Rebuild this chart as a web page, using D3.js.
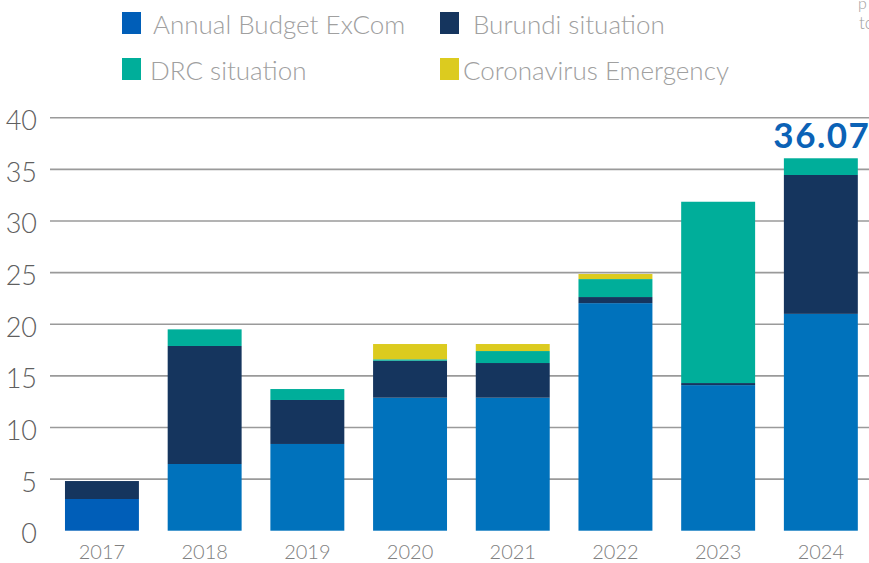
<!DOCTYPE html>
<html>
<head>
    <script src="https://d3js.org/d3.v7.min.js"></script>
    <style>
        body { margin: 0; background: #fff; }
        svg { display: block; }
        text { font-family: Lato, "Open Sans", sans-serif; }
    </style>
</head>
<body>
    <svg></svg>
    <script>
        const years = ['2017', '2018', '2019', '2020', '2021', '2022', '2023', '2024']
        const seriesNames = ['Annual Budget ExCom', 'Burundi situation', 'DRC situation', 'Coronavirus Emergency']
        const annualBudget = [3.07, 6.46, 8.40, 12.88, 12.88, 22.04, 14.10, 21.00]
        const burundi      = [1.74, 11.43, 4.26, 3.58, 3.36, 0.59, 0.20, 13.45]
        const drc          = [0, 1.61, 1.06, 0.14, 1.16, 1.74, 17.56, 1.62]
        const corona       = [0, 0, 0, 1.48, 0.68, 0.49, 0, 0]
        const yTicks = [0, 5, 10, 15, 20, 25, 30, 35, 40]
        const totalLabel = '36.07'

        const colors = ['#0072bc', '#15355e', '#00ae9a', '#dccb1f']

        const width = 869, height = 563

        const svg = d3.select('svg').attr('width', width).attr('height', height)

        const rows = years.map((y, i) => ({
            year: y,
            'Annual Budget ExCom': annualBudget[i],
            'Burundi situation': burundi[i],
            'DRC situation': drc[i],
            'Coronavirus Emergency': corona[i]
        }))

        const x = d3.scaleBand().domain(years).range([50.6, 872.2]).paddingInner(0.28).paddingOuter(0.14)
        const y = d3.scaleLinear().domain([0, 40]).range([530.7, 117.7])

        // gridlines
        svg.append('g').selectAll('line')
            .data(yTicks.filter(d => d > 0))
            .enter().append('line')
            .attr('x1', 50).attr('x2', width)
            .attr('y1', d => y(d)).attr('y2', d => y(d))
            .style('stroke', '#9a9a9a').style('stroke-width', 1.6)

        // y tick labels
        svg.append('g').selectAll('text')
            .data(yTicks)
            .enter().append('text')
            .attr('x', 37).attr('y', d => y(d) + 3)
            .attr('dy', '0.35em')
            .attr('text-anchor', 'end')
            .style('font-size', '27px').style('font-weight', 300)
            .style('fill', '#5f5f5f')
            .text(d => d)

        const stack = d3.stack().keys(seriesNames)(rows)

        svg.append('g').selectAll('g')
            .data(stack)
            .enter().append('g')
            .style('fill', (d, i) => colors[i])
            .selectAll('rect')
            .data(d => d)
            .enter().append('rect')
            .attr('x', d => x(d.data.year))
            .attr('width', x.bandwidth())
            .attr('y', d => y(d[1]))
            .attr('height', d => y(d[0]) - y(d[1]))
            // 2017 annual budget is drawn in a darker blue
            .style('fill', d => d.data.year === '2017' && d[0] === 0 ? '#005eb8' : null)

        // x labels
        svg.append('g').selectAll('text')
            .data(years)
            .enter().append('text')
            .attr('x', d => x(d) + x.bandwidth() / 2)
            .attr('y', 559)
            .attr('text-anchor', 'middle')
            .style('font-size', '20px').style('font-weight', 300)
            .style('fill', '#808080')
            .text(d => d)

        // total label on last bar
        svg.append('text')
            .attr('x', x('2024') + x.bandwidth() / 2 + 1)
            .attr('y', 148)
            .attr('text-anchor', 'middle')
            .style('font-size', '35px').style('font-weight', 700)
            .style('letter-spacing', '1.5px')
            .style('fill', '#0b62b6')
            .text(totalLabel)

        // legend
        const legendPos = [[122, 12], [440, 12], [122, 58], [440, 58]]
        const legendTextX = [153, 473, 150, 463]
        const legend = svg.append('g').selectAll('g')
            .data(seriesNames)
            .enter().append('g')

        legend.append('rect')
            .attr('x', (d, i) => legendPos[i][0])
            .attr('y', (d, i) => legendPos[i][1])
            .attr('width', 19).attr('height', 22)
            .style('fill', (d, i) => i === 0 ? '#005eb8' : colors[i])

        legend.append('text')
            .attr('x', (d, i) => legendTextX[i])
            .attr('y', (d, i) => legendPos[i][1] + 22)
            .style('font-size', '26px').style('font-weight', 300)
            .style('fill', '#a0a0a0')
            .text(d => d)

        // cut-off note at right edge
        svg.append('text').attr('x', 858).attr('y', 9)
            .style('font-size', '16px').style('font-weight', 300).style('fill', '#a0a0a0').text('p')
        svg.append('text').attr('x', 859).attr('y', 29)
            .style('font-size', '17px').style('font-weight', 300).style('fill', '#a0a0a0').text('to')
    </script>
</body>
</html>
